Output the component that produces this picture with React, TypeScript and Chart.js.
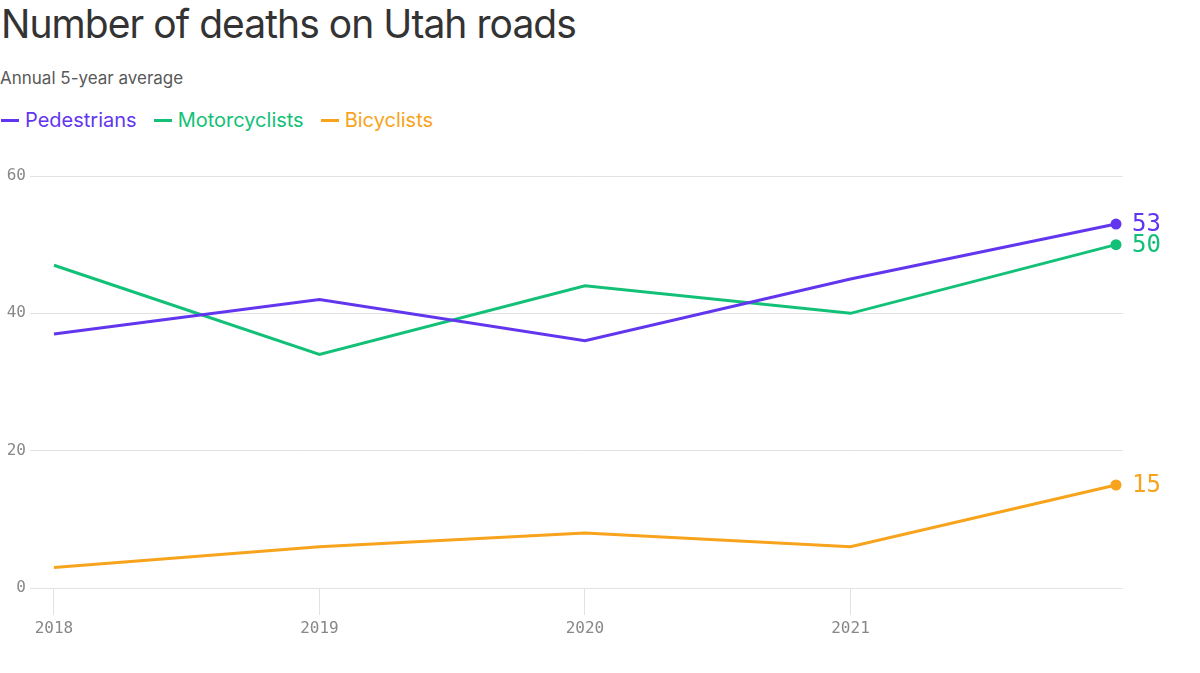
import React, { useEffect, useRef } from 'react';
import { Chart, registerables, Plugin } from 'chart.js';

Chart.register(...registerables);

const years = [2018, 2019, 2020, 2021, 2022];
const pedestrians = [37, 42, 36, 45, 53];
const motorcyclists = [47, 34, 44, 40, 50];
const bicyclists = [3, 6, 8, 6, 15];
const yTicks = [0, 20, 40, 60];
const xTickYears = [2018, 2019, 2020, 2021];

const PURPLE = '#6236ee';
const GREEN = '#12c177';
const ORANGE = '#f7a31c';
const MONO = '"DejaVu Sans Mono", monospace';
const SANS = 'Inter, "Noto Sans", sans-serif';

// writes the last value next to each line's end point
const endLabels: Plugin<'line'> = {
  id: 'endLabels',
  afterDatasetsDraw(chart) {
    const ctx = chart.ctx;
    ctx.save();
    ctx.font = `24px ${MONO}`;
    ctx.textBaseline = 'middle';
    ctx.textAlign = 'left';
    chart.data.datasets.forEach((ds, i) => {
      const meta = chart.getDatasetMeta(i);
      const last = meta.data[meta.data.length - 1];
      const point = ds.data[ds.data.length - 1] as any;
      ctx.fillStyle = ds.borderColor as string;
      ctx.fillText(String(point.y), last.x + 16, last.y + 1);
    });
    ctx.restore();
  },
};

const series = [
  { label: 'Pedestrians', data: pedestrians, color: PURPLE },
  { label: 'Motorcyclists', data: motorcyclists, color: GREEN },
  { label: 'Bicyclists', data: bicyclists, color: ORANGE },
];

const App: React.FC = () => {
  const canvasRef = useRef<HTMLCanvasElement>(null);
  const chartRef = useRef<Chart | null>(null);

  useEffect(() => {
    document.body.style.margin = '0';
    if (!canvasRef.current) return;
    if (chartRef.current) chartRef.current.destroy();

    chartRef.current = new Chart(canvasRef.current, {
      type: 'line',
      data: {
        datasets: series.map(s => ({
          label: s.label,
          data: s.data.map((v, i) => ({ x: years[i], y: v })),
          borderColor: s.color,
          backgroundColor: s.color,
          borderWidth: 3,
          tension: 0,
          pointRadius: (c: any) => (c.dataIndex === s.data.length - 1 ? 5.5 : 0),
          pointBorderWidth: 0,
          pointHoverRadius: 0,
        })),
      },
      options: {
        animation: false,
        responsive: true,
        maintainAspectRatio: false,
        layout: { padding: { top: 26, right: 77, left: 0, bottom: 0 } },
        plugins: {
          legend: { display: false },
          tooltip: { enabled: false },
        },
        scales: {
          x: {
            type: 'linear',
            min: 2018 - 24 / 266,
            max: 2022 + 7 / 266,
            afterBuildTicks: scale => {
              scale.ticks = xTickYears.map(v => ({ value: v }));
            },
            afterFit: scale => {
              scale.height = 85;
            },
            ticks: {
              callback: v => String(v),
              font: { family: MONO, size: 16 },
              color: '#888888',
              padding: 4,
              maxRotation: 0,
            },
            grid: {
              drawOnChartArea: false,
              drawTicks: true,
              tickLength: 27,
              color: '#e2e2e2',
            },
            border: { display: false },
          },
          y: {
            min: 0,
            max: 60,
            afterBuildTicks: scale => {
              scale.ticks = yTicks.map(v => ({ value: v }));
            },
            afterFit: scale => {
              scale.width = 30;
            },
            ticks: {
              font: { family: MONO, size: 16 },
              color: '#888888',
              padding: 4,
            },
            grid: {
              color: '#e2e2e2',
              drawTicks: false,
            },
            border: { display: false },
          },
        },
      },
      plugins: [endLabels],
    });

    return () => {
      if (chartRef.current) {
        chartRef.current.destroy();
        chartRef.current = null;
      }
    };
  }, []);

  return (
    <div style={{ width: 1200, height: 673, position: 'relative', background: '#fff', fontFamily: SANS }}>
      <div
        style={{
          position: 'absolute', left: 1, top: -1, fontSize: 39, lineHeight: '50px',
          color: '#333333', letterSpacing: -0.95,
        }}
      >
        Number of deaths on Utah roads
      </div>
      <div
        style={{
          position: 'absolute', left: 0, top: 67, fontSize: 17, lineHeight: '22px',
          color: '#595959', letterSpacing: 0,
        }}
      >
        Annual 5-year average
      </div>
      <div style={{ position: 'absolute', left: 1, top: 106, display: 'flex', fontSize: 20, lineHeight: '28px' }}>
        {series.map(s => (
          <div key={s.label} style={{ display: 'flex', alignItems: 'center', marginRight: 17, color: s.color }}>
            <span style={{ display: 'inline-block', width: 18, height: 3, background: s.color, marginRight: 6 }} />
            {s.label}
          </div>
        ))}
      </div>
      <div style={{ position: 'absolute', left: 0, top: 150, width: 1200, height: 523 }}>
        <canvas ref={canvasRef} />
      </div>
    </div>
  );
};

export default App;
